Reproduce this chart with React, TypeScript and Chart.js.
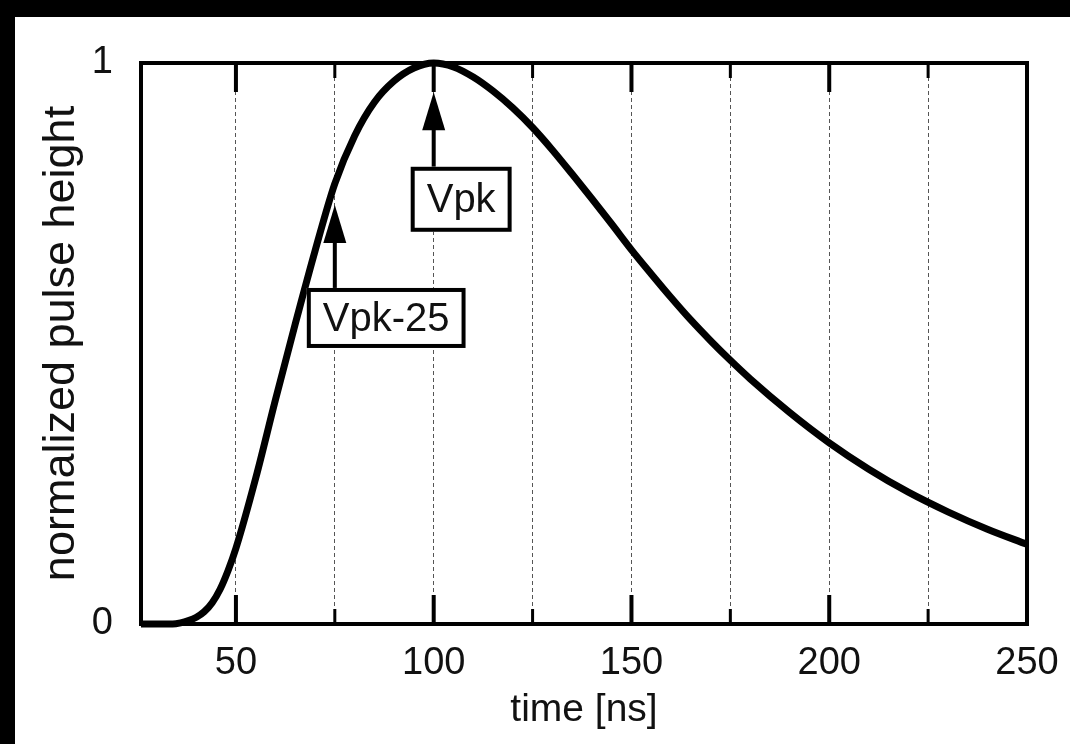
import { useEffect, useRef } from 'react';
import { Chart, registerables } from 'chart.js';

Chart.register(...registerables);

// Pulse shape: time in ns and height normalised to the peak
const timeNs = [26, 30, 34, 36, 38, 40, 42, 44, 46, 48, 50, 55, 60, 65, 70, 75, 80, 85, 90, 95, 100, 105, 110, 115, 120, 125, 130, 135, 140, 145, 150, 155, 160, 165, 170, 175, 180, 190, 200, 210, 220, 230, 240, 250];
const pulseHeight = [0, 0, 0, 0.002, 0.006, 0.012, 0.022, 0.038, 0.062, 0.095, 0.135, 0.26, 0.4, 0.535, 0.665, 0.785, 0.87, 0.93, 0.968, 0.991, 1.0, 0.993, 0.975, 0.95, 0.92, 0.885, 0.845, 0.802, 0.758, 0.713, 0.667, 0.624, 0.582, 0.542, 0.505, 0.47, 0.437, 0.377, 0.323, 0.276, 0.235, 0.2, 0.169, 0.142];

// Axis ticks
const xTickValues = [50, 75, 100, 125, 150, 175, 200, 225, 250];
const xLabelStep = 50;
const yTickValues = [0, 1];

// Sampling markers (time of the marker, and its caption)
const markerTimes = [100, 75];
const markerLabels = ['Vpk', 'Vpk-25'];

const FONT = '"Liberation Sans", Arial, Helvetica, sans-serif';

// Marker drawing layout: arrow tip / box top levels (in y units) and box offset from the arrow
const markerLayout = [
  { tip: 0.948, boxTop: 0.815, boxDx: -23, boxH: 65 },
  { tip: 0.747, boxTop: 0.599, boxDx: -28, boxH: 60 },
];

const framePlugin = {
  id: 'pulseFrame',
  beforeDraw(chart: any) {
    const { ctx, width, height } = chart;
    ctx.save();
    ctx.fillStyle = '#000';
    ctx.fillRect(0, 0, width, height);
    ctx.fillStyle = '#fff';
    ctx.fillRect(15, 17, width - 15, height - 17);
    ctx.restore();
  },
  afterDatasetsDraw(chart: any) {
    const { ctx, chartArea } = chart;
    const xs = chart.scales.x;
    const ys = chart.scales.y;
    const { left, right, top, bottom } = chartArea;
    ctx.save();
    ctx.fillStyle = '#000';

    // inward tick marks on the top and bottom edges
    xTickValues.forEach((v) => {
      if (v >= xs.max) return;
      const x = xs.getPixelForValue(v);
      const major = v % xLabelStep === 0;
      const len = major ? 29 : 15;
      const w = major ? 4 : 3;
      ctx.fillRect(x - w / 2, bottom - len, w, len);
      ctx.fillRect(x - w / 2, top, w, len);
    });

    // frame
    ctx.lineWidth = 4;
    ctx.strokeStyle = '#000';
    ctx.strokeRect(left, top, right - left, bottom - top);

    // arrows with labelled boxes
    ctx.font = `40px ${FONT}`;
    markerTimes.forEach((t, i) => {
      const lay = markerLayout[i];
      const x = xs.getPixelForValue(t);
      const tipY = ys.getPixelForValue(lay.tip);
      const boxTop = ys.getPixelForValue(lay.boxTop);
      const headH = 38;
      const headW = 23;
      ctx.beginPath();
      ctx.moveTo(x, tipY);
      ctx.lineTo(x - headW / 2, tipY + headH);
      ctx.lineTo(x + headW / 2, tipY + headH);
      ctx.closePath();
      ctx.fill();
      ctx.fillRect(x - 2, tipY + headH - 1, 4, boxTop - (tipY + headH) + 1);

      const text = markerLabels[i];
      const tw = ctx.measureText(text).width;
      const bw = tw + 32;
      const bh = lay.boxH;
      const bx = x + lay.boxDx;
      ctx.fillStyle = '#fff';
      ctx.fillRect(bx, boxTop, bw, bh);
      ctx.lineWidth = 4;
      ctx.strokeRect(bx + 2, boxTop + 2, bw - 4, bh - 4);
      ctx.fillStyle = '#111';
      ctx.textAlign = 'center';
      ctx.textBaseline = 'middle';
      ctx.fillText(text, bx + bw / 2, boxTop + bh / 2 + 2);
      ctx.fillStyle = '#000';
    });
    ctx.restore();
  },
};

export default function App() {
  const ref = useRef<HTMLCanvasElement>(null);

  useEffect(() => {
    const canvas = ref.current;
    if (!canvas) return;
    const chart = new Chart(canvas, {
      type: 'line',
      data: {
        datasets: [
          {
            data: timeNs.map((t, i) => ({ x: t, y: pulseHeight[i] })),
            borderColor: '#000',
            borderWidth: 7,
            pointRadius: 0,
            cubicInterpolationMode: 'monotone',
            fill: false,
            clip: false as any,
          },
        ],
      },
      options: {
        animation: false,
        responsive: false,
        events: [],
        layout: { padding: { top: 63, right: 43, bottom: 0, left: 0 } },
        plugins: { legend: { display: false }, tooltip: { enabled: false } },
        scales: {
          x: {
            type: 'linear',
            min: 26,
            max: 250,
            afterBuildTicks: (s: any) => {
              s.ticks = xTickValues.map((v) => ({ value: v }));
            },
            afterFit: (s: any) => {
              s.height = 120;
              s.paddingLeft = 0;
              s.paddingRight = 0;
            },
            ticks: {
              autoSkip: false,
              maxRotation: 0,
              padding: 17,
              color: '#111',
              font: { family: FONT, size: 38 },
              callback: (v: any) => (Number(v) % xLabelStep === 0 ? String(v) : ''),
            },
            grid: {
              drawTicks: false,
              lineWidth: 1,
              color: (c: any) => (c.tick && c.tick.value < 250 ? '#555' : 'rgba(0,0,0,0)'),
            },
            border: { display: false, dash: [4, 3] },
            title: {
              display: true,
              text: 'time [ns]',
              color: '#111',
              font: { family: FONT, size: 39 },
              padding: { top: 0, bottom: 10 },
            },
          },
          y: {
            min: 0,
            max: 1,
            afterBuildTicks: (s: any) => {
              s.ticks = yTickValues.map((v) => ({ value: v }));
            },
            afterFit: (s: any) => {
              s.width = 141;
              s.paddingTop = 0;
              s.paddingBottom = 0;
            },
            ticks: {
              padding: 20,
              color: '#111',
              font: { family: FONT, size: 38 },
              callback: (v: any) => String(v),
            },
            grid: { display: false },
            border: { display: false },
            title: {
              display: true,
              text: 'normalized pulse height',
              color: '#111',
              font: { family: FONT, size: 45 },
              padding: { top: 35, bottom: 0 },
            },
          },
        },
      },
      plugins: [framePlugin],
    } as any);
    return () => chart.destroy();
  }, []);

  return (
    <div style={{ position: 'fixed', left: 0, top: 0, width: 1070, height: 744, background: '#000' }}>
      <canvas ref={ref} width={1070} height={744} style={{ display: 'block' }} />
    </div>
  );
}
